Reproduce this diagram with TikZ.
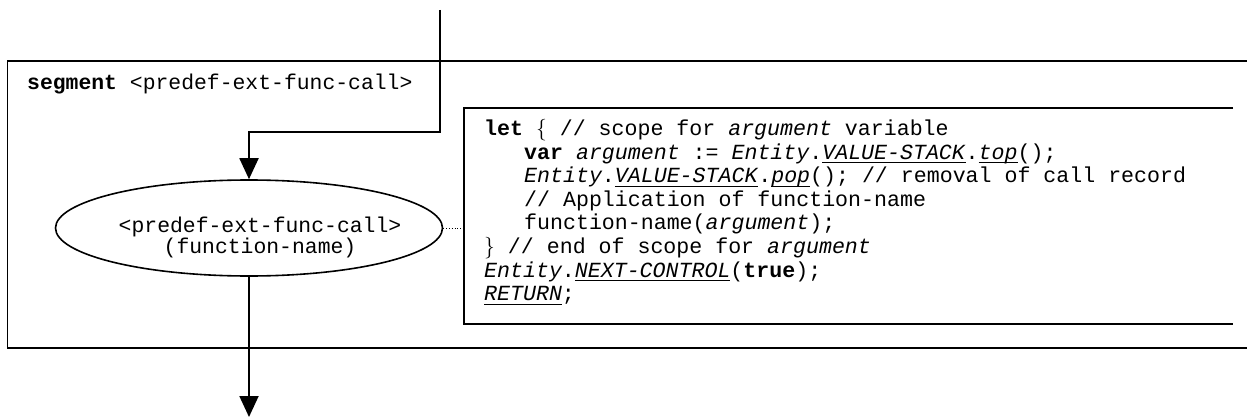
\documentclass[tikz,border=0pt]{standalone}
\usepackage{fontspec}
\setmonofont{Liberation Mono}
\usetikzlibrary{arrows.meta,shapes.geometric,positioning}
\setlength{\parindent}{0pt}
\newcommand{\codefont}{\ttfamily\fontsize{21.6}{23.6}\selectfont}
\newcommand{\labelfont}{\ttfamily\fontsize{21.4}{21}\selectfont}
\newsavebox{\ulbox}
\newcommand{\ulit}[1]{\sbox{\ulbox}{\textit{#1}}\rlap{\rule[-4.4pt]{\wd\ulbox}{1.1pt}}\usebox{\ulbox}}
\newcommand{\ind}{\hspace*{40pt}}

\begin{document}
\begin{tikzpicture}[x=1pt,y=-1pt,>=Triangle,
    frame/.style={line width=1.9pt},
    flow/.style={-{Triangle[length=21pt,width=19pt]},line width=1.9pt},
    proc/.style={ellipse,draw,line width=1.6pt,minimum width=387pt,minimum height=96pt,inner sep=0pt},
    every node/.style={font=\codefont}]
    \useasboundingbox (0,0) rectangle (1247,417);

    % segment frame, open to the right
    \draw[frame] (1250,61) -- (7.5,61) -- (7.5,348) -- (1250,348);
    \node[anchor=base west,inner sep=0pt,font=\labelfont] (title) at (27,90)
      {\textbf{segment} <predef-ext-func-call>};

    \node[proc] (call) at (249,228) {};
    \node[align=center,inner sep=0pt,font=\labelfont] (calltext) at (260,237)
      {<predef-ext-func-call>\\(function-name)};

    % code box
    \coordinate (codeW) at (464,228);
    \draw[frame] (1233,108) -- (464,108) -- (464,324) -- (1233,324);
    \node[anchor=north west,align=left,inner sep=0pt] (code) at (484,119)
      {\noindent\textbf{let} {\rmfamily\{} // scope for \textit{argument} variable\\
       \ind\textbf{var} \textit{argument} := \textit{Entity}.\ulit{VALUE-STACK}.\ulit{top}();\\
       \ind\textit{Entity}.\ulit{VALUE-STACK}.\ulit{pop}(); // removal of call record\\
       \ind// Application of function-name\\
       \ind function-name(\textit{argument});\\
       {\rmfamily\}} // end of scope for \textit{argument}\\
       \textit{Entity}.\ulit{NEXT-CONTROL}(\textbf{true});\\
       \ulit{RETURN};};
    \draw[dotted,line width=0.8pt] (call.east) -- (codeW);

    % flow lines
    \coordinate (in) at (440,10);
    \coordinate (bend) at (440,132);
    \coordinate (out) at (249,417);
    \draw[flow] (in) -- (bend) -| (call.north);
    \draw[flow] (call.south) -- (out);
  \end{tikzpicture}
\end{document}
